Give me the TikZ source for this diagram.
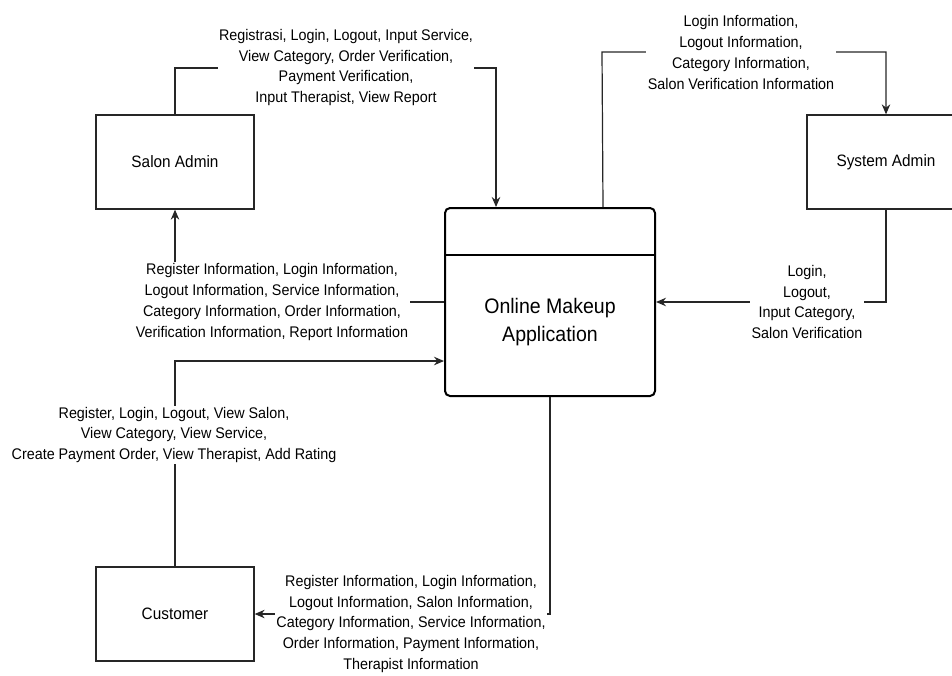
\documentclass[tikz,border=0pt]{standalone}
\usepackage{fontspec}
\setmainfont{Liberation Sans}[FakeStretch=0.93]
\usetikzlibrary{arrows.meta}
\begin{document}
\begin{tikzpicture}[x=1pt,y=-1pt,
  entity/.style={draw=black!85, line width=1.3pt, minimum width=158pt, minimum height=94pt, inner sep=0pt, font=\fontsize{16.5}{20}\selectfont, text=black},
  procbox/.style={draw=black, line width=2pt, rounded corners=5pt, minimum width=210pt, minimum height=188pt, inner sep=0pt},
  flow/.style={draw=black!85, line width=1.2pt, -{Stealth[length=10pt,width=8.5pt]}},
  lbl/.style={fill=white, align=center, inner sep=1.5pt, font=\fontsize{15.4}{20.7}\selectfont, text=black},
  ptext/.style={align=center, font=\fontsize{21}{28}\selectfont, text=black}]
\useasboundingbox (0,0) rectangle (952,675);

% entities
\node[entity] (sa) at (175,162) {Salon Admin};
\node[entity] (sy) at (886,162) {System Admin};
\node[entity] (cu) at (175,614) {Customer};

% process
\node[procbox] (proc) at (550,302) {};
\draw[line width=2pt] ([yshift=-48pt]proc.north west) -- ([yshift=-48pt]proc.north east);
\node[ptext] (ptxt) at (550,322) {Online Makeup\\Application};

% bend coordinates
\coordinate (b1) at (175,68);
\coordinate (b2) at (602,52);

% connectors
\draw[flow] (sa.north) -- (b1) -| ([xshift=52pt]proc.north west);
\draw[flow] ([xshift=-53pt]proc.north east) -- (b2) -| (sy.north);
\draw[flow] (sy.south) |- (proc.east);
\draw[flow] (proc.west) -| (sa.south);
\draw[flow] (cu.north) |- ([yshift=-59pt]proc.west);
\draw[flow] (proc.south) |- (cu.east);

% labels
\node[lbl] (l1) at (346,67.5) {Registrasi, Login, Logout, Input Service,\\View Category, Order Verification,\\Payment Verification,\\Input Therapist, View Report};
\node[lbl] (l2) at (741,52.5) {Login Information,\\Logout Information,\\Category Information,\\Salon Verification Information};
\node[lbl] (l3) at (807,302) {Login,\\Logout,\\Input Category,\\Salon Verification};
\node[lbl] (l4) at (272,302) {Register Information, Login Information,\\Logout Information, Service Information,\\Category Information, Order Information,\\Verification Information, Report Information};
\node[lbl] (l5) at (174,435) {Register, Login, Logout, View Salon,\\View Category, View Service,\\Create Payment Order, View Therapist, Add Rating};
\node[lbl] (l6) at (411,624) {Register Information, Login Information,\\Logout Information, Salon Information,\\Category Information, Service Information,\\Order Information, Payment Information,\\Therapist Information};
\end{tikzpicture}
\end{document}
